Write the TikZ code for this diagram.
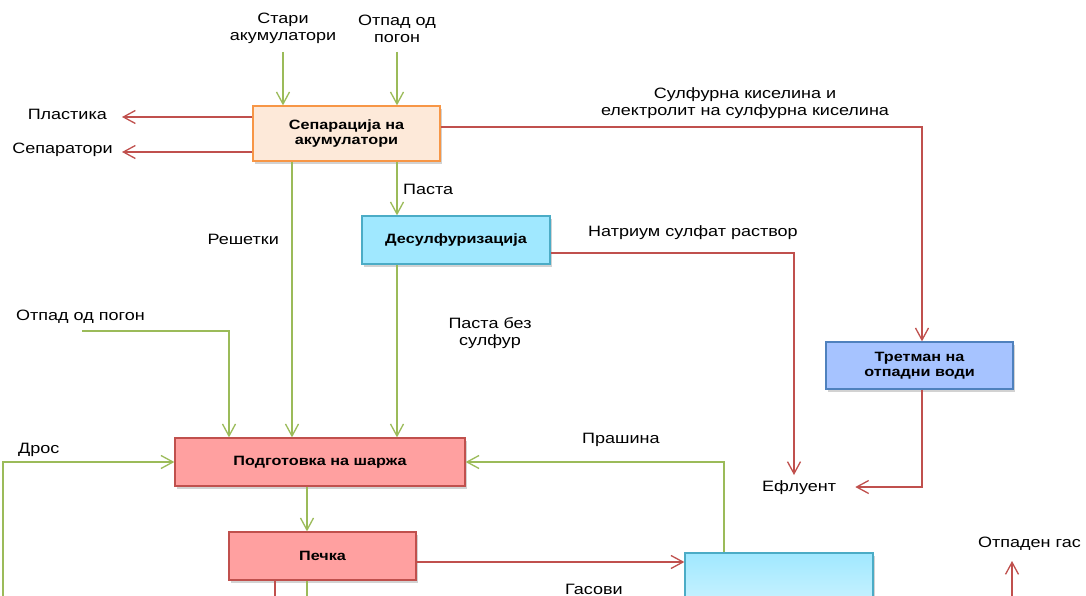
\documentclass[tikz,border=0pt]{standalone}
\usepackage{fontspec}
\setmainfont[FakeStretch=1.2]{Liberation Sans}
\usetikzlibrary{arrows.meta,shadows}
\definecolor{gr}{HTML}{9BBB59}
\definecolor{rd}{HTML}{C0504D}
\definecolor{sepfill}{HTML}{FDE9D9}
\definecolor{sepdraw}{HTML}{F79646}
\definecolor{cyfill}{HTML}{A0E8FF}
\definecolor{cydraw}{HTML}{4BACC6}
\definecolor{blfill}{HTML}{A6C3FF}
\definecolor{bldraw}{HTML}{4F81BD}
\definecolor{pkfill}{HTML}{FFA0A0}
\definecolor{cylight}{HTML}{E6FAFF}
\tikzset{
  lbl/.style={font=\fontsize{15}{17}\selectfont, align=center, inner sep=1pt},
  box/.style={font=\fontsize{13.5}{15}\selectfont\bfseries, align=center, line width=1.3pt,
     drop shadow={shadow xshift=2pt,shadow yshift=-3pt,opacity=0.35}},
  tip/.style={-{Straight Barb[length=12pt,width=13pt,line width=1.3pt]}},
  garr/.style={draw=gr, line width=1.5pt, tip},
  rarr/.style={draw=rd, line width=1.5pt, tip},
  gline/.style={draw=gr, line width=1.5pt},
  rline/.style={draw=rd, line width=1.5pt},
}
\begin{document}
\begin{tikzpicture}[x=1pt,y=-1pt]
\useasboundingbox (0,0) rectangle (1086,596);
\clip (0,0) rectangle (1086,596);
\fill[white] (0,0) rectangle (1086,596);
% boxes
\node[box, fill=sepfill, draw=sepdraw, minimum width=187pt, minimum height=55pt] (sep) at (346.5,133.5) {Сепарација на\\акумулатори};
\node[box, fill=cyfill, draw=cydraw, minimum width=188pt, minimum height=48pt] (des) at (456,240) {Десулфуризација};
\node[box, fill=blfill, draw=bldraw, minimum width=187pt, minimum height=47pt] (tret) at (919.5,365.5) {Третман на\\отпадни води};
\node[box, fill=pkfill, draw=rd, minimum width=290pt, minimum height=48pt] (prep) at (320,462) {Подготовка на шаржа};
\node[box, fill=pkfill, draw=rd, minimum width=187pt, minimum height=48pt] (pech) at (322.5,556) {Печка};
\node[draw=cydraw, line width=1.3pt, top color=cyfill, bottom color=cylight, minimum width=188pt, minimum height=87pt,
  drop shadow={shadow xshift=2pt,shadow yshift=-3pt,opacity=0.35}] (gasb) at (779,596.5) {};
% labels
\node[lbl] (stari) at (283,28.5) {Стари\\акумулатори};
\node[lbl] (otp1) at (397,28.5) {Отпад од\\погон};
\node[lbl, anchor=east] (plast) at (108,114) {Пластика};
\node[lbl, anchor=east] (separ) at (114,150) {Сепаратори};
\node[lbl] (sulf) at (745,103.5) {Сулфурна киселина и\\електролит на сулфурна киселина};
\node[lbl, anchor=west] (pasta) at (402,189) {Паста};
\node[lbl, anchor=east] (resh) at (280,239) {Решетки};
\node[lbl, anchor=west] (natr) at (587,233) {Натриум сулфат раствор};
\node[lbl] (bez) at (490,333.5) {Паста без\\сулфур};
\node[lbl, anchor=west] (otp2) at (15,317) {Отпад од погон};
\node[lbl, anchor=west] (dros) at (17,450) {Дрос};
\node[lbl, anchor=west] (prash) at (581,440) {Прашина};
\node[lbl, anchor=west] (efl) at (761,488) {Ефлуент};
\node[lbl, anchor=west] (gasovi) at (564,589) {Гасови};
\node[lbl, anchor=west] (otgas) at (977,544) {Отпаден гас};
% coordinates
\coordinate (c1) at (283,52);
\coordinate (c2) at (397,52);
\coordinate (c3) at (82,331);
\coordinate (c4) at (3,600);
\coordinate (c5) at (794,475);
\coordinate (c6) at (1012,600);
\coordinate (c7) at (1012,561);
% connectors
\draw[garr] (c1) -- (c1 |- sep.north);
\draw[garr] (c2) -- (c2 |- sep.north);
\draw[rarr] ([yshift=16.5pt]sep.west) -- ([yshift=16.5pt]sep.west -| 122,0);
\draw[rarr] ([yshift=-18.5pt]sep.west) -- ([yshift=-18.5pt]sep.west -| 122,0);
\draw[rarr] ([yshift=6.5pt]sep.east) -| (tret.north -| 922,0);
\draw[garr] ([xshift=50.5pt]sep.south) -- ([xshift=50.5pt]sep.south |- des.north);
\draw[garr] ([xshift=-54.5pt]sep.south) -- ([xshift=-54.5pt]sep.south |- prep.north);
\draw[garr] ([xshift=-59pt]des.south) -- ([xshift=-59pt]des.south |- prep.north);
\draw[rarr] ([yshift=-13pt]des.east) -| (c5);
\draw[garr] (c3) -| ([xshift=-91pt]prep.north);
\draw[rarr] (tret.south -| 922,0) |- ([xshift=18pt,yshift=1pt]efl.east);
\draw[garr] (c4) |- (prep.west);
\draw[garr] ([xshift=-55pt]gasb.north) |- (prep.east);
\draw[garr] ([xshift=-13pt]prep.south) -- ([xshift=-13pt]prep.south |- pech.north);
\draw[rarr] ([yshift=-6pt]pech.east) -- ([yshift=-6pt]pech.east -| gasb.west);
\draw[rline] ([xshift=-47.5pt]pech.south) -- ++(0,30);
\draw[gline] ([xshift=-15.5pt]pech.south) -- ++(0,30);
\draw[rarr] (c6) -- (c7);
\end{tikzpicture}
\end{document}
